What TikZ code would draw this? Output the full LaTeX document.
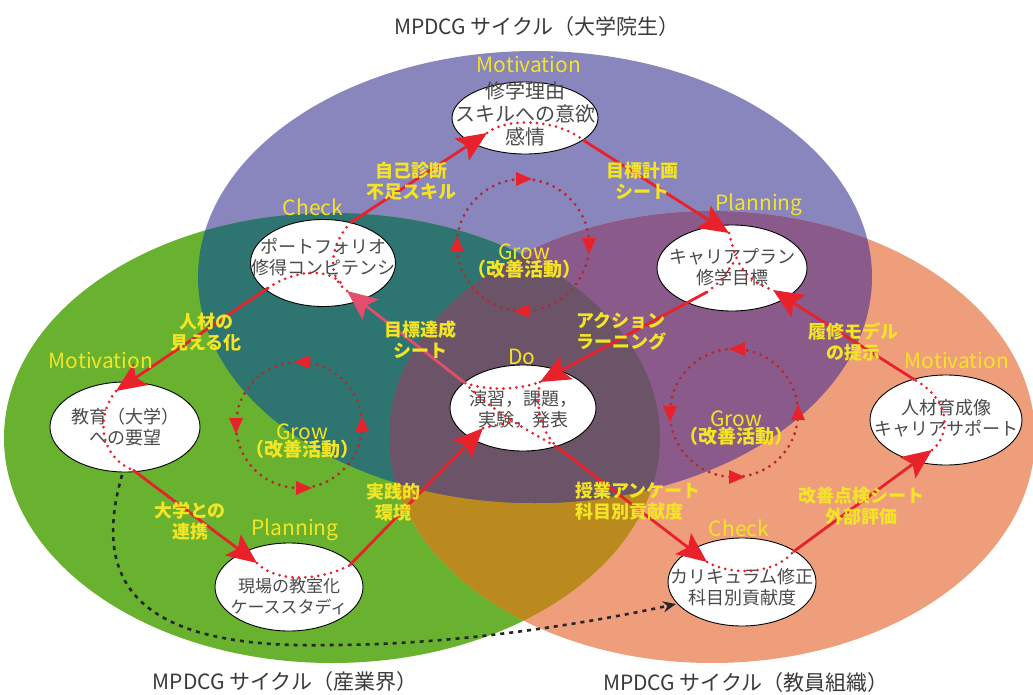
\documentclass[tikz,border=0pt]{standalone}
\usepackage{fontspec}
\setmainfont{Noto Sans CJK JP}
\usetikzlibrary{shapes.geometric,arrows.meta,calc}
\definecolor{cPur}{HTML}{8985BD}
\definecolor{cGre}{HTML}{69B22F}
\definecolor{cOra}{HTML}{EF9E7C}
\definecolor{cTeal}{HTML}{2E7470}
\definecolor{cPO}{HTML}{8A5A8A}
\definecolor{cGO}{HTML}{BA8A1E}
\definecolor{cTri}{HTML}{6B5468}
\definecolor{cRed}{HTML}{E8212B}
\definecolor{cPink}{HTML}{E24E6C}
\definecolor{cDkRed}{HTML}{B5272D}
\definecolor{cYel}{HTML}{F4E524}
\definecolor{cTxt}{HTML}{4A4A4A}
\definecolor{cTtl}{HTML}{3A3A3A}
\newcommand\growtip[2]{\fill[growtip, shift={#1}, rotate=#2] (9,0) -- (-7,-7) -- (-7,7) -- cycle;}
\begin{document}
\begin{tikzpicture}[x=1pt,y=-1pt,
 nd/.style={ellipse, draw=black, line width=0.9pt, fill=white, inner sep=0pt},
 ntx/.style={text=cTxt, align=center, font=\fontsize{18pt}{21pt}\selectfont, inner sep=0pt},
 ph/.style={text=cYel, font=\fontsize{21pt}{24pt}\selectfont, inner sep=0pt},
 el/.style={text=cYel, align=center, font=\bfseries\fontsize{18pt}{21pt}\selectfont, inner sep=0pt},
 gl/.style={text=cYel, align=center, inner sep=0pt},
 ttl/.style={text=cTtl, font=\fontsize{21pt}{24pt}\selectfont, inner sep=0pt},
 redarr/.style={draw=cRed, line width=2.8pt, -{Stealth[length=30pt,width=26pt,inset=6pt]}},
 pinkarr/.style={redarr, draw=cPink},
 reddot/.style={draw=cRed, line width=3pt, line cap=round, dash pattern=on 0pt off 6.5pt},
 growdot/.style={draw=cDkRed, line width=3.2pt, line cap=round, dash pattern=on 0pt off 7pt},
 growtip/.style={fill=cRed},
 blkdot/.style={draw=black!85, line width=2.6pt, dash pattern=on 4pt off 5pt, -{Stealth[length=13pt,width=11pt]}}
]
\useasboundingbox (0,0) rectangle (1033,695);
\fill[white] (0,0) rectangle (1033,695);
% big ellipses
\fill[cPur] (535,277) ellipse [x radius=337, y radius=226];
\fill[cGre] (332,438) ellipse [x radius=328, y radius=225];
\fill[cOra] (712,437) ellipse [x radius=323, y radius=226];
\begin{scope}
 \clip (332,438) ellipse [x radius=328, y radius=225];
 \fill[cGO] (712,437) ellipse [x radius=323, y radius=226];
\end{scope}
\begin{scope}
 \clip (535,277) ellipse [x radius=337, y radius=226];
 \fill[cTeal] (332,438) ellipse [x radius=328, y radius=225];
 \fill[cPO] (712,437) ellipse [x radius=323, y radius=226];
 \clip (332,438) ellipse [x radius=328, y radius=225];
 \fill[cTri] (712,437) ellipse [x radius=323, y radius=226];
\end{scope}
% titles
\node[ttl] (t1) at (537,27) {MPDCG サイクル（大学院生）};
\node[ttl] (t2) at (285,682) {MPDCG サイクル（産業界）};
\node[ttl] (t3) at (746,683) {MPDCG サイクル（教員組織）};
% grow circles
\coordinate (g1) at (523,245);
\coordinate (g2) at (299,425);
\coordinate (g3) at (734,413);
\draw[growdot] (g1) circle[radius=66];
\draw[growdot] (g2) circle[radius=63];
\draw[growdot] (g3) circle[radius=64];
\growtip{($(g1)+(0,-66)$)}{0}
\growtip{($(g1)+(66,0)$)}{270}
\growtip{($(g1)+(0,66)$)}{180}
\growtip{($(g1)+(-66,0)$)}{90}
\growtip{($(g2)+(4,-63)$)}{180}
\growtip{($(g2)+(-63,0)$)}{270}
\growtip{($(g2)+(4,63)$)}{0}
\growtip{($(g2)+(63,0)$)}{90}
\growtip{($(g3)+(4,-64)$)}{180}
\growtip{($(g3)+(-64,0)$)}{270}
\growtip{($(g3)+(2,64)$)}{0}
\growtip{($(g3)+(64,0)$)}{90}
\node[gl] (gl1) at (524,261) {\fontsize{21pt}{22pt}\selectfont Grow\\{\bfseries\fontsize{19pt}{22pt}\selectfont（改善活動）}};
\node[gl] (gl2) at (302,441) {\fontsize{21pt}{22pt}\selectfont Grow\\{\bfseries\fontsize{19pt}{22pt}\selectfont（改善活動）}};
\node[gl] (gl3) at (736,428) {\fontsize{21pt}{22pt}\selectfont Grow\\{\bfseries\fontsize{19pt}{22pt}\selectfont（改善活動）}};
% nodes
\node[nd, minimum width=146pt, minimum height=72pt] (m1) at (525,118) {};
\node[nd, minimum width=145pt, minimum height=87pt] (c1) at (323,263) {};
\node[nd, minimum width=150pt, minimum height=86pt] (p1) at (732,268) {};
\node[nd, minimum width=146pt, minimum height=86pt] (dn) at (523,408) {};
\node[nd, minimum width=150pt, minimum height=90pt] (m2) at (125,427) {};
\node[nd, minimum width=148pt, minimum height=88pt] (p2) at (289,587) {};
\node[nd, minimum width=148pt, minimum height=88pt] (c2) at (742,582) {};
\node[nd, minimum width=152pt, minimum height=90pt] (m3) at (946,420) {};
% node texts
\node[ntx, font=\fontsize{20pt}{23pt}\selectfont] (m1t) at (525,114) {修学理由\\スキルへの意欲\\感情};
\node[ntx] (c1t) at (323,257) {ポートフォリオ\\修得コンピテンシ};
\node[ntx] (p1t) at (732,267) {キャリアプラン\\修学目標};
\node[ntx] (dnt) at (523,409) {演習，課題，\\実験，発表};
\node[ntx] (m2t) at (125,427) {教育（大学）\\への要望};
\node[ntx, font=\fontsize{17pt}{21pt}\selectfont] (p2t) at (289,597) {現場の教室化\\ケーススタディ};
\node[ntx] (c2t) at (742,587) {カリキュラム修正\\科目別貢献度};
\node[ntx] (m3t) at (946,418) {人材育成像\\キャリアサポート};
% dotted paths inside nodes
\draw[reddot] ($(m1)+(-38,15)$) .. controls ($(m1)+(-20,0)$) and ($(m1)+(30,0)$) .. ($(m1)+(58,22)$);
\draw[reddot] ($(c1)+(24,28)$) .. controls ($(c1)+(5,15)$) and ($(c1)+(5,-15)$) .. ($(c1)+(27,-40)$);
\draw[reddot] ($(c1)+(-55,25)$) .. controls ($(c1)+(-30,8)$) and ($(c1)+(5,2)$) .. ($(c1)+(22,24)$);
\draw[reddot] ($(p1)+(-3,-35)$) .. controls ($(p1)+(3,-13)$) and ($(p1)+(6,10)$) .. ($(p1)+(41,22)$);
\draw[reddot] ($(p1)+(-25,24)$) .. controls ($(p1)+(-12,14)$) .. ($(p1)+(2,-6)$);
\draw[reddot] ($(dn)+(-58,-25)$) .. controls ($(dn)+(-35,-17)$) and ($(dn)+(-5,-18)$) .. ($(dn)+(17,-26)$);
\draw[reddot] ($(dn)+(17,-26)$) .. controls ($(dn)+(13,-5)$) and ($(dn)+(15,20)$) .. ($(dn)+(34,39)$);
\draw[reddot] ($(dn)+(-58,-25)$) .. controls ($(dn)+(-35,0)$) and ($(dn)+(0,20)$) .. ($(dn)+(34,39)$);
\draw[reddot] ($(dn)+(-40,20)$) -- ($(dn)+(-11,14)$);
\draw[reddot] ($(m2)+(-9,-36)$) .. controls ($(m2)+(-30,-10)$) and ($(m2)+(-25,30)$) .. ($(m2)+(8,43)$);
\draw[reddot] ($(p2)+(-32,-24)$) .. controls ($(p2)+(-15,-5)$) and ($(p2)+(30,-5)$) .. ($(p2)+(61,-22)$);
\draw[reddot] ($(c2)+(-35,-20)$) .. controls ($(c2)+(-15,-8)$) and ($(c2)+(30,-5)$) .. ($(c2)+(51,-30)$);
\draw[reddot] ($(m3)+(-14,30)$) .. controls ($(m3)+(5,15)$) and ($(m3)+(5,-20)$) .. ($(m3)+(-31,-40)$);
% red connectors
\draw[redarr] ($(c1)+(27,-40)$) -- ($(m1)+(-38,15)$);
\draw[redarr] ($(m1)+(58,22)$) -- ($(p1)+(-3,-35)$);
\draw[redarr] ($(p1)+(-25,24)$) -- ($(dn)+(17,-26)$);
\draw[pinkarr] ($(dn)+(-58,-25)$) -- ($(c1)+(24,28)$);
\draw[redarr] ($(c1)+(-55,25)$) -- ($(m2)+(-9,-36)$);
\draw[redarr] ($(m2)+(8,43)$) -- ($(p2)+(-32,-24)$);
\draw[redarr] ($(p2)+(61,-22)$) -- ($(dn)+(-40,20)$);
\draw[redarr] ($(dn)+(34,39)$) -- ($(c2)+(-35,-20)$);
\draw[redarr] ($(c2)+(51,-30)$) -- ($(m3)+(-14,30)$);
\draw[redarr] ($(m3)+(-31,-40)$) -- ($(p1)+(41,22)$);
% black dotted connector
\draw[blkdot] ($(m2)+(-3,48)$) .. controls (95,570) and (120,650) .. (330,645) .. controls (450,645) and (580,625) .. ($(c2)+(-66,22)$);
% phase labels
\node[ph] (ph1) at (529,65) {Motivation};
\node[ph] (ph2) at (313,207) {Check};
\node[ph] (ph3) at (759,205) {Planning};
\node[ph] (ph4) at (522,357) {Do};
\node[ph] (ph5) at (101,360) {Motivation};
\node[ph] (ph6) at (295,530) {Planning};
\node[ph] (ph7) at (739,528) {Check};
\node[ph] (ph8) at (957,360) {Motivation};
% edge labels
\node[el] (e1) at (411,181) {自己診断\\不足スキル};
\node[el] (e2) at (642,181) {目標計画\\シート};
\node[el] (e3) at (206,332) {人材の\\見える化};
\node[el] (e4) at (420,340) {目標達成\\シート};
\node[el] (e5) at (621,331) {アクション\\ラーニング};
\node[el] (e6) at (853,342) {履修モデル\\の提示};
\node[el] (e7) at (190,521) {大学との\\連携};
\node[el] (e8) at (393,502) {実践的\\環境};
\node[el, anchor=west, align=left] (e9) at (575,501) {授業アンケート\\科目別貢献度};
\node[el] (e10) at (861,506) {改善点検シート\\外部評価};
\end{tikzpicture}
\end{document}
